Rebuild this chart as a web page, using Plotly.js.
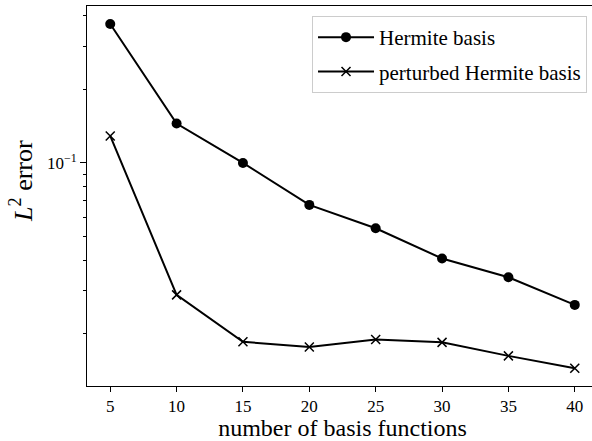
<!DOCTYPE html>
<html>
<head>
<meta charset="utf-8">
<script src="https://cdn.plot.ly/plotly-3.0.1.min.js"></script>
<style>
html, body { margin: 0; padding: 0; overflow: hidden; background: #fff; }
#chart { width: 598px; height: 441px; }
</style>
</head>
<body>
<div id="chart"></div>
<script>
const basisCounts = [5, 10, 15, 20, 25, 30, 35, 40];
const hermiteError = [0.371, 0.145, 0.100, 0.0673, 0.0540, 0.0406, 0.0340, 0.0262];
const perturbedError = [0.129, 0.0288, 0.0185, 0.0176, 0.0189, 0.0184, 0.0162, 0.0144];
const seriesNames = ["Hermite basis", "perturbed Hermite basis"];
const xTicks = [5, 10, 15, 20, 25, 30, 35, 40];
const yMajorTicks = [0.1];
const yMajorLabels = ["10<sup>\u22121</sup>"];
const yMinorTicks = [0.02, 0.03, 0.04, 0.05, 0.06, 0.07, 0.08, 0.09, 0.2, 0.3, 0.4];

const FONT = "'Liberation Serif', 'DejaVu Serif', serif";

const traces = [
  {
    x: basisCounts, y: hermiteError, name: seriesNames[0],
    type: "scatter", mode: "lines+markers", legendgroup: "a",
    line: { color: "#000", width: 2 },
    marker: { symbol: "circle", size: 10, color: "#000" }
  },
  {
    x: basisCounts, y: perturbedError, name: seriesNames[1],
    type: "scatter", mode: "lines+markers", legendgroup: "b",
    line: { color: "#000", width: 2 },
    marker: { symbol: "x-thin", size: 9, line: { color: "#000", width: 1.5 } }
  }
];

const layout = {
  width: 598, height: 441,
  margin: { l: 87, r: 0, t: 6, b: 54.5, autoexpand: false },
  paper_bgcolor: "#fff", plot_bgcolor: "#fff",
  font: { family: FONT, color: "#000", size: 17 },
  showlegend: true,
  legend: {
    x: 0.9785, xanchor: "right", y: 0.9737, yanchor: "top",
    bgcolor: "rgba(255,255,255,0.8)", bordercolor: "#cccccc", borderwidth: 1,
    font: { family: FONT, size: 21, color: "#000" },
    itemwidth: 56,
    tracegroupgap: 4
  },
  xaxis: {
    range: [3.25, 41.75],
    tickmode: "array", tickvals: xTicks,
    ticks: "outside", ticklen: 5, tickwidth: 1, tickcolor: "#000",
    showline: true, linecolor: "#000", linewidth: 1, mirror: true,
    showgrid: false, zeroline: false,
    tickfont: { family: FONT, size: 17 },
    title: { text: "number of basis functions", font: { family: FONT, size: 24 }, standoff: 1 }
  },
  yaxis: {
    type: "log",
    range: [-1.914, -0.357],
    tickmode: "array", tickvals: yMajorTicks, ticktext: yMajorLabels,
    ticks: "outside", ticklen: 6, tickwidth: 1, tickcolor: "#000",
    minor: { tickmode: "array", tickvals: yMinorTicks, ticks: "outside", ticklen: 3.5, tickwidth: 1, tickcolor: "#000", showgrid: false },
    showline: true, linecolor: "#000", linewidth: 1, mirror: true,
    showgrid: false, zeroline: false,
    tickfont: { family: FONT, size: 17 }
  },
  annotations: [
    {
      text: "<i>L</i><sup>2</sup> error",
      xref: "paper", yref: "paper", x: -0.127, y: 0.54,
      xanchor: "center", yanchor: "middle", textangle: -90, showarrow: false,
      font: { family: FONT, size: 26, color: "#000" }
    }
  ]
};

Plotly.newPlot("chart", traces, layout, { displayModeBar: false, staticPlot: true });
</script>
</body>
</html>
